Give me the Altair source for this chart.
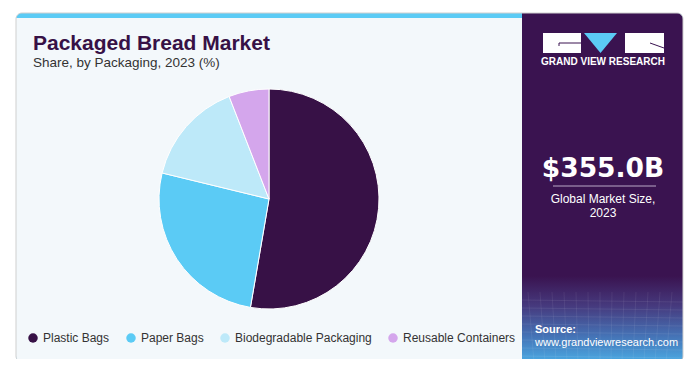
import altair as alt
import pandas as pd

# ---- data ----
categories = ["Plastic Bags", "Paper Bags", "Biodegradable Packaging", "Reusable Containers"]
shares = [52.7, 26.1, 15.3, 5.9]
colors = ["#371146", "#5BCBF5", "#BDE9F9", "#D4A6EC"]

title_text = "Packaged Bread Market"
subtitle_text = "Share, by Packaging, 2023 (%)"
market_value = "$355.0B"
market_label_1 = "Global Market Size,"
market_label_2 = "2023"
brand = "GRAND VIEW RESEARCH"
source_label = "Source:"
source_url = "www.grandviewresearch.com"

df = pd.DataFrame({"category": categories, "share": shares, "idx": list(range(len(categories)))})
one = pd.DataFrame({"k": [0]})
base = alt.Chart(one)

W, H = 681, 351
PURPLE = "#3A1350"
FONT = "Liberation Sans"


def rect(x, x2, y, y2, **kw):
    return base.mark_rect(**kw).encode(
        x=alt.value(x), x2=alt.value(x2), y=alt.value(y), y2=alt.value(y2)
    )


def text(t, x, y, **kw):
    kw.setdefault("font", FONT)
    kw.setdefault("align", "left")
    kw.setdefault("baseline", "alphabetic")
    return base.mark_text(**kw).encode(x=alt.value(x), y=alt.value(y), text=alt.value(t))


def rule(x, x2, y, y2, **kw):
    return base.mark_rule(**kw).encode(
        x=alt.value(x), x2=alt.value(x2), y=alt.value(y), y2=alt.value(y2)
    )


# card background layers
card_blue = rect(8, 675, 5, 354, color="#5BCBF5", cornerRadius=6)
card_light = rect(8, 514, 10, 354, color="#F3F8FB", cornerRadiusBottomLeft=6)
panel = rect(514, 675, 5, 354, color=PURPLE, cornerRadiusTopRight=6, cornerRadiusBottomRight=6)
gradient = rect(
    514, 675, 268, 354,
    color=alt.LinearGradient(
        gradient="linear", x1=0, y1=0, x2=0, y2=1,
        stops=[
            alt.GradientStop(offset=0, color=PURPLE),
            alt.GradientStop(offset=0.35, color="#463A7E"),
            alt.GradientStop(offset=0.7, color="#4573B6"),
            alt.GradientStop(offset=1, color="#4BAAE3"),
        ],
    ),
    cornerRadiusBottomRight=6,
)
# faint mesh lines in the gradient area (decoration)
mesh = []
for yy in [292, 300, 308, 316, 324, 332, 340, 348]:
    mesh.append(rule(514, 675, yy, yy + 2, color="white", strokeWidth=0.6, opacity=0.13))
for i, xx in enumerate(range(520, 676, 12)):
    mesh.append(rule(xx, xx + 6 - i, 284, 354, color="white", strokeWidth=0.6, opacity=0.12))
border = rect(8, 675, 5, 354, filled=False, stroke="#CFCFCF", strokeWidth=1, cornerRadius=6)

# logo
logo_left = rect(535, 573, 25, 45, color="white")
logo_right = rect(617, 656, 25, 45, color="white")
logo_tri = base.mark_point(
    shape="M-1,-0.6L1,-0.6L0,0.6Z", size=1089, filled=True, color="#5BCBF5", opacity=1
).encode(x=alt.value(592.5), y=alt.value(35))
logo_l1 = rule(551, 573, 35, 35, color=PURPLE, strokeWidth=1)
logo_l2 = rule(551, 551, 35, 38, color=PURPLE, strokeWidth=1)
logo_l3 = rule(642, 656, 35, 40, color=PURPLE, strokeWidth=1)
logo_text = text(brand, 595, 57, color="white", fontSize=10, fontWeight="bold", align="center")

# market size
value_text = text(market_value, 595, 169, color="white", fontSize=26.5, fontWeight="bold",
                  align="center", font="DejaVu Sans")
sep = rule(545, 648, 178, 178, color="#B9A9C6", strokeWidth=1)
lab1 = text(market_label_1, 595, 195, color="white", fontSize=12, align="center")
lab2 = text(market_label_2, 595, 209, color="white", fontSize=12, align="center")
src1 = text(source_label, 527, 325, color="white", fontSize=11, fontWeight="bold")
src2 = text(source_url, 527, 338, color="white", fontSize=11)

# titles
t1 = text(title_text, 25, 42, color="#371146", fontSize=21, fontWeight="bold")
t2 = text(subtitle_text, 25, 59, color="#333333", fontSize=13.5)

# pie
pie = alt.Chart(df).mark_arc(radius=110, stroke="white", strokeWidth=1).encode(
    theta=alt.Theta("share:Q", stack=True),
    order=alt.Order("idx:Q"),
    color=alt.Color(
        "category:N",
        scale=alt.Scale(domain=categories, range=colors),
        sort=categories,
        legend=alt.Legend(
            orient="none", legendX=19, legendY=324, direction="horizontal",
            title=None, symbolType="circle", symbolSize=90, symbolStrokeWidth=0,
            labelFontSize=12, labelColor="#333333", labelFont=FONT,
            columnPadding=15, labelOffset=4, padding=0,
        ),
    ),
    x=alt.value(261),
    y=alt.value(191),
)

chart = alt.layer(
    card_blue, card_light, panel, gradient, *mesh, border,
    logo_left, logo_right, logo_tri, logo_l1, logo_l2, logo_l3, logo_text,
    value_text, sep, lab1, lab2, src1, src2, t1, t2, pie,
).properties(
    width=W, height=H,
    autosize=alt.AutoSizeParams(type="fit", contains="padding"),
    padding=0,
    background="white",
).configure_view(stroke=None)

chart.save("out.html", embed_options={"renderer": "svg", "actions": False})
